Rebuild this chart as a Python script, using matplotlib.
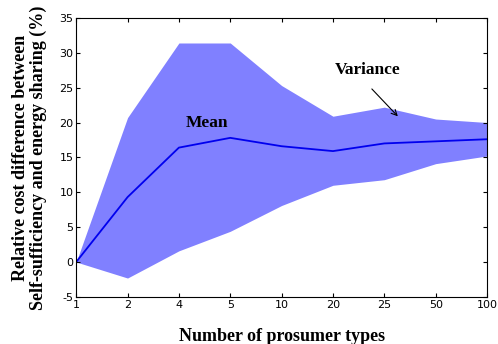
import matplotlib
matplotlib.use('Agg')
import matplotlib.pyplot as plt
import numpy as np

plt.rcParams['axes.unicode_minus'] = False

types = ['1', '2', '4', '5', '10', '20', '25', '50', '100']
upper = [0, 20.7, 31.4, 31.4, 25.3, 20.9, 22.2, 20.5, 20.0]
mean = [0, 9.3, 16.4, 17.8, 16.6, 15.9, 17.0, 17.3, 17.6]
lower = [0, -2.3, 1.6, 4.4, 8.1, 11.0, 11.8, 14.1, 15.2]

x = np.arange(len(types))

fig = plt.figure(figsize=(4.98, 3.44), dpi=100)
ax = fig.add_axes([0.153, 0.137, 0.825, 0.811])

ax.fill_between(x, lower, upper, color='#8080ff', linewidth=0)
ax.plot(x, mean, color='#0000ee', linewidth=1.3)

ax.set_xlim(0, len(types) - 1)
ax.set_ylim(-5, 35)
ax.set_xticks(x)
ax.set_xticklabels(types)
ax.set_yticks(range(-5, 36, 5))
ax.tick_params(direction='in', top=True, right=True, labelsize=8, length=3, pad=2)
for s in ax.spines.values():
    s.set_linewidth(0.8)

bold = dict(family='Liberation Serif', weight='bold')
ax.set_xlabel('Number of prosumer types', fontsize=13, labelpad=13, **bold)
ax.set_ylabel('Relative cost difference between\nSelf-sufficiency and energy sharing (%)',
              fontsize=13, labelpad=9, linespacing=1.05, **bold)

ax.text(2.55, 19.9, 'Mean', ha='center', va='center', fontsize=12.5, **bold)
ax.text(5.68, 27.5, 'Variance', ha='center', va='center', fontsize=12.5, **bold)
ax.annotate('', xy=(6.3, 20.6), xytext=(5.72, 25.1),
            arrowprops=dict(arrowstyle='->', color='black', lw=0.8))

fig.savefig('out.png', dpi=100)
